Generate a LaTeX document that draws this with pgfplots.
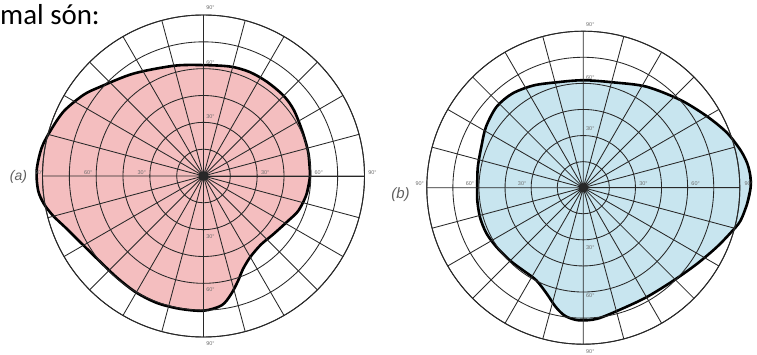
\documentclass[border=0pt]{standalone}
\usepackage{fontspec}
\setmainfont{Liberation Sans}
\newfontfamily\carlito{Carlito}
\usepackage{pgfplots}
\pgfplotsset{compat=1.18}
\usepgfplotslibrary{polar}
\definecolor{pinkfill}{RGB}{244,190,191}
\definecolor{bluefill}{RGB}{200,229,239}
\definecolor{gridc}{RGB}{40,40,40}
\definecolor{labc}{RGB}{110,110,110}
\definecolor{tagc}{RGB}{95,95,95}
\pgfplotsset{
  chartstyle/.style={
    scale only axis, xmin=0, xmax=360, ymin=0, ymax=90,
    xtick={0,15,...,345}, ytick={15,30,...,90},
    xticklabels={}, yticklabels={},
    major tick length=0pt,
    grid=major, major grid style={gridc, line width=0.85bp},
    axis line style={gridc, line width=0.95bp},
    axis on top, clip=false,
  },
}
\tikzset{deg/.style={font=\fontsize{5.5}{6}\selectfont, text=labc, inner sep=0pt, anchor=center}}
\begin{document}
\begin{tikzpicture}
\useasboundingbox (0,0) rectangle (757bp,355bp);
\node[anchor=base west, inner sep=0pt, font=\carlito\fontsize{29}{30}\selectfont] at (0bp,330bp) {mal són:};
\node[font=\itshape\fontsize{14}{15}\selectfont, text=tagc, inner sep=0pt] at (18.5bp,178.5bp) {(a)};
\node[font=\itshape\fontsize{15}{16}\selectfont, text=tagc, inner sep=0pt] at (400.5bp,160bp) {(b)};

\begin{polaraxis}[chartstyle, width=322bp, height=322bp, at={(203.5bp,179bp)}, anchor=center]
\addplot[draw=black, line width=2.6bp, fill=pinkfill, smooth, mark=none] coordinates {
(-10,58.5) (0,59.5) (12,60) (24,60.6) (36,62.5) (45,63.4) (56,63.5) (66,63.6) (76,63)
(90,62) (105,63.8) (124.5,69.4) (139.5,76.5) (146,81) (155,86) (163,89) (170,91.8)
(178,93.3) (185,92.8) (190,90.5) (195,86.8) (201,82) (210,77.5) (220,75) (230,74.6)
(240,75.2) (250,75.6) (260,75.4) (270,75.3) (278,73) (283,68) (288,62) (293,56.5)
(300,52.3) (310,50) (320,50.8) (332,53.5) (340,56.5) (350,58.5) (360,59.5) (372,60)
};
\node[deg, xshift=8bp, yshift=3bp] at (axis cs:0,30) {30°};
\node[deg, xshift=8bp, yshift=3bp] at (axis cs:0,60) {60°};
\node[deg, xshift=8bp, yshift=3bp] at (axis cs:0,90) {90°};
\node[deg, xshift=-8bp, yshift=3bp] at (axis cs:180,30) {30°};
\node[deg, xshift=-8bp, yshift=3bp] at (axis cs:180,60) {60°};
\node[deg, xshift=-3.5bp, yshift=3.5bp] at (axis cs:180,90) {90°};
\node[deg, xshift=7bp, yshift=6bp] at (axis cs:90,30) {30°};
\node[deg, xshift=7bp, yshift=6bp] at (axis cs:90,60) {60°};
\node[deg, xshift=7bp, yshift=7bp] at (axis cs:90,90) {90°};
\node[deg, xshift=7bp, yshift=-7bp] at (axis cs:270,30) {30°};
\node[deg, xshift=7bp, yshift=-6bp] at (axis cs:270,60) {60°};
\node[deg, xshift=7bp, yshift=-7bp] at (axis cs:270,90) {90°};
\end{polaraxis}

\begin{polaraxis}[chartstyle, width=313bp, height=313bp, at={(583.3bp,167.3bp)}, anchor=center]
\addplot[draw=black, line width=2.6bp, fill=bluefill, smooth, mark=none] coordinates {
(-5.5,94.7) (0,96.2) (4,96.3) (8.5,95.3) (13.5,92.9) (21,88.4) (30,82.1) (42,75.3)
(58,68.5) (74,63) (90,61.8) (104,62.5) (116,65.4) (127,67.8) (137,68.2) (148,66)
(158,63.2) (169,61.8) (180,61) (187,61.4) (196,61.8) (205,61.6) (214,60.5) (225,59.4)
(234,58.8) (243,59.7) (251,64.5) (257,70.4) (262,74.5) (268,76.3) (276,75.8) (287,73.2)
(300,72.7) (314,74.4) (326,78.6) (336,84) (343,88.6) (348,92.3) (354.5,94.7) (360,96.2) (364,96.3)
};
\node[deg, xshift=8bp, yshift=4bp] at (axis cs:0,30) {30°};
\node[deg, xshift=8bp, yshift=4bp] at (axis cs:0,60) {60°};
\node[deg, xshift=9bp, yshift=4bp] at (axis cs:0,90) {90°};
\node[deg, xshift=-9bp, yshift=4bp] at (axis cs:180,30) {30°};
\node[deg, xshift=-9bp, yshift=4bp] at (axis cs:180,60) {60°};
\node[deg, xshift=-7bp, yshift=4bp] at (axis cs:180,90) {90°};
\node[deg, xshift=7bp, yshift=7bp] at (axis cs:90,30) {30°};
\node[deg, xshift=7bp, yshift=6bp] at (axis cs:90,60) {60°};
\node[deg, xshift=7bp, yshift=7bp] at (axis cs:90,90) {90°};
\node[deg, xshift=7bp, yshift=-8bp] at (axis cs:270,30) {30°};
\node[deg, xshift=7bp, yshift=-4bp] at (axis cs:270,60) {60°};
\node[deg, xshift=7bp, yshift=-7bp] at (axis cs:270,90) {90°};
\end{polaraxis}
\end{tikzpicture}
\end{document}
